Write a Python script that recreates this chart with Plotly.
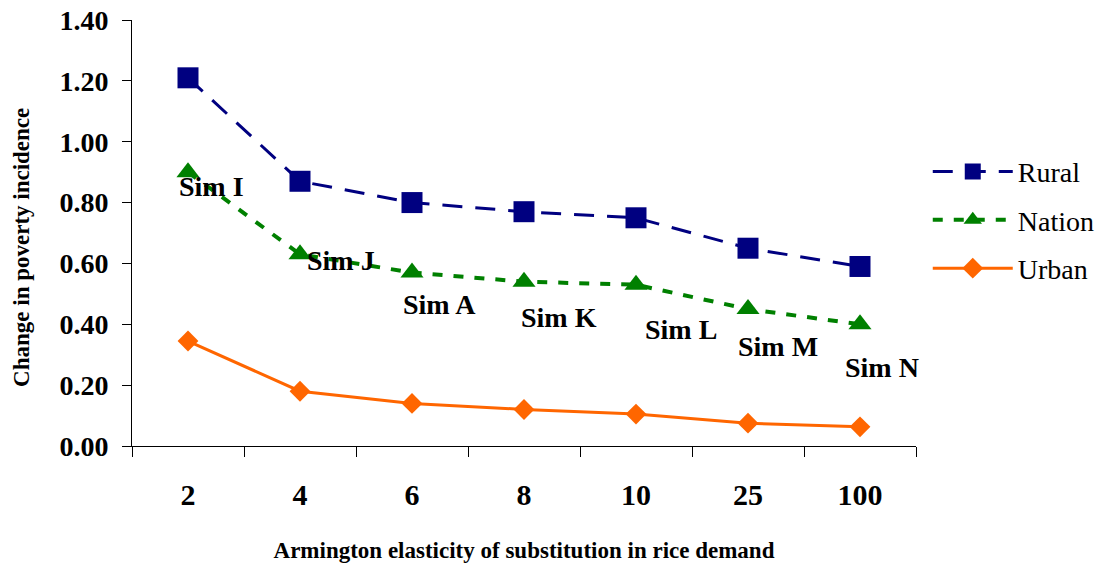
import plotly.graph_objects as go

categories = ["2", "4", "6", "8", "10", "25", "100"]
rural = [1.21, 0.87, 0.80, 0.77, 0.75, 0.65, 0.59]
nation = [0.90, 0.63, 0.57, 0.54, 0.53, 0.45, 0.40]
urban = [0.345, 0.18, 0.14, 0.12, 0.105, 0.075, 0.063]
sim_labels = ["Sim I", "Sim J", "Sim A", "Sim K", "Sim L", "Sim M", "Sim N"]
label_dx = [23, 41, 27, 35, 45, 30, 22]
label_dy = [-14, -6, -32, -36, -45, -37, -43]

FONT = "Liberation Serif"

fig = go.Figure()
fig.add_trace(go.Scatter(
    x=categories, y=rural, name="Rural", mode="lines+markers", legendgroup="a",
    line=dict(color="#000080", width=3, dash="20px,13px"),
    marker=dict(symbol="square", size=21, color="#000080")))
fig.add_trace(go.Scatter(
    x=categories, y=nation, name="Nation", mode="lines+markers", legendgroup="b",
    line=dict(color="#008000", width=4, dash="10px,11px"),
    marker=dict(symbol="triangle-up", size=20, color="#008000")))
fig.add_trace(go.Scatter(
    x=categories, y=urban, name="Urban", mode="lines+markers", legendgroup="c",
    line=dict(color="#FF6600", width=3),
    marker=dict(symbol="diamond", size=16, color="#FF6600")))

for i, (v, t, dx, dy) in enumerate(zip(nation, sim_labels, label_dx, label_dy)):
    fig.add_annotation(x=i, y=v, xref="x", yref="y", text=t, showarrow=False,
                       xshift=dx, yshift=dy,
                       font=dict(family=FONT, size=28, color="black", weight="bold"))

# y-axis title (placed slightly below centre, as in the reference)
fig.add_annotation(xref="paper", yref="paper", x=0, y=0.465, xshift=-110,
                   xanchor="center", yanchor="middle", textangle=-90, showarrow=False,
                   text="Change in poverty incidence",
                   font=dict(family=FONT, size=23, color="black", weight="bold"))

fig.update_layout(
    width=1112, height=570,
    margin=dict(l=132, r=192, t=20, b=124),
    paper_bgcolor="white", plot_bgcolor="white",
    font=dict(family=FONT, color="black"),
    legend=dict(x=1.015, y=0.53, xanchor="left", yanchor="middle",
                font=dict(family=FONT, size=28), itemwidth=80,
                tracegroupgap=9, traceorder="grouped"),
)
fig.update_xaxes(
    type="category", range=[-0.5, 6.5], showline=True, linecolor="black", linewidth=1,
    ticks="outside", ticklen=10, tickcolor="black", tickson="boundaries",
    showgrid=False, ticklabelstandoff=22, tickangle=0, automargin=False,
    tickfont=dict(family=FONT, size=30, weight="bold"),
    title=dict(text="Armington elasticity of substitution in rice demand",
               font=dict(family=FONT, size=23, weight="bold"), standoff=31),
)
fig.update_yaxes(
    range=[0, 1.4], dtick=0.2, tickformat=".2f", showline=True, linecolor="black",
    linewidth=1, ticks="outside", ticklen=9, tickcolor="black", showgrid=False,
    zeroline=False, ticklabelstandoff=8, automargin=False,
    tickfont=dict(family=FONT, size=28, weight="bold"),
)

fig.write_html(
    "out.html",
    config={"displayModeBar": False},
    post_script="document.body.style.margin='0';document.body.style.overflow='hidden';",
)
